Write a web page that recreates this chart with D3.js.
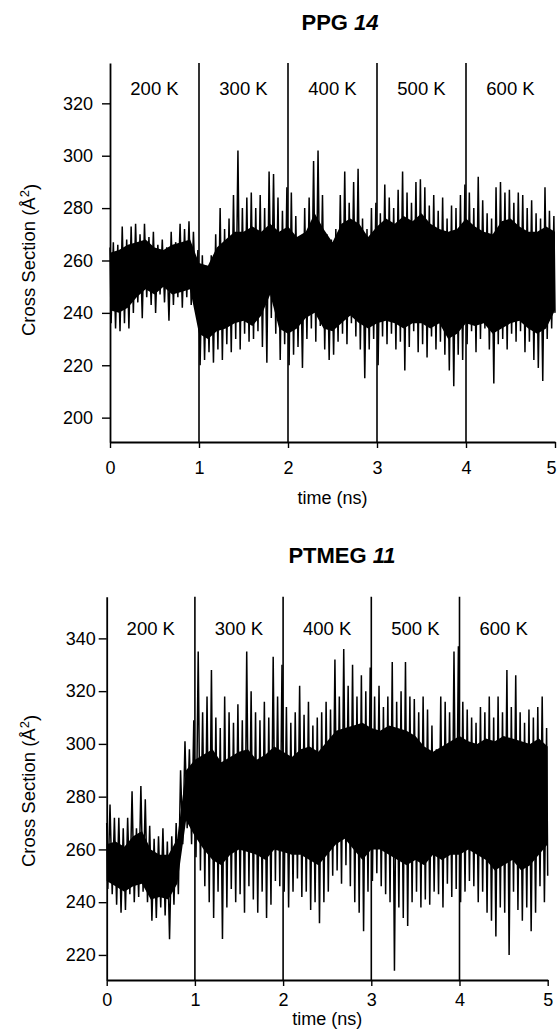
<!DOCTYPE html>
<html>
<head>
<meta charset="utf-8">
<script src="https://cdn.jsdelivr.net/npm/d3@7"></script>
<style>
  body { margin: 0; background: #fff; }
  svg text { font-family: "Liberation Sans", Arial, Helvetica, sans-serif; fill: #000; }
</style>
</head>
<body>
<div id="chart"></div>
<script>
// ---- data ----
// envelope (max / min per bin) every 0.05 ns (t = 0 ... 5), dense core band every 0.1 ns
const envStep = 0.05;
const coreStep = 0.1;
const tempLabels = ["200 K", "300 K", "400 K", "500 K", "600 K"];
const xTicks = [0, 1, 2, 3, 4, 5];
const switchTimes = [1, 2, 3, 4];

// PPG 14
const ppgHi = [265,267,266,273,268,273,274,270,274,269,271,266,268,265,271,267,274,272,275,271,
  264,262,258,262,270,280,272,276,285,302,280,284,286,280,285,280,294,293,284,279,
  288,286,277,268,280,284,298,302,285,270,268,272,285,294,282,290,295,276,272,280,
  282,278,289,284,280,287,294,286,282,290,291,288,281,285,279,284,276,281,280,285,
  289,286,280,292,283,278,276,288,290,286,287,282,286,285,280,283,278,276,288,279,277];
const ppgLo = [236,234,233,236,234,240,244,238,246,243,240,247,244,237,243,246,242,246,243,245,
  220,222,225,221,226,222,228,225,230,226,232,229,230,233,227,221,238,232,222,228,
  220,224,227,219,230,234,229,235,226,222,224,229,232,228,236,231,226,215,226,230,
  220,231,228,232,226,229,218,227,233,225,228,223,231,226,229,224,218,212,224,222,
  228,233,225,230,234,226,213,228,230,226,232,229,233,225,229,222,219,214,230,234,240];
const ppgCoreHi = [263,264,266,267,268,265,264,266,267,268,259,258,265,268,271,271,273,271,274,271,
  273,269,271,278,272,267,274,276,274,269,273,276,274,277,275,278,274,272,271,272,
  276,273,271,270,275,276,273,271,271,273,271];
const ppgCoreLo = [241,240,242,246,249,247,250,247,248,249,232,230,233,234,236,237,235,239,247,234,
  232,234,238,240,234,233,236,239,236,234,236,237,236,234,236,236,234,236,230,232,
  236,235,236,232,234,236,237,234,232,234,241];
const ppgYTicks = [200, 220, 240, 260, 280, 300, 320];

// PTMEG 11
const ptmegHi = [270,277,272,272,268,272,282,268,284,279,269,264,265,268,263,265,270,290,301,298,
  309,335,312,318,328,310,306,318,312,308,315,309,335,320,312,309,316,310,333,318,
  330,314,308,312,322,311,316,307,310,312,316,313,332,318,336,322,330,318,326,320,
  329,318,322,314,318,331,316,320,331,318,317,312,318,313,307,298,318,316,312,335,
  337,316,313,310,308,314,312,318,310,318,312,328,314,326,312,308,313,310,314,318,306];
const ptmegLo = [245,243,239,236,237,243,240,242,244,240,233,234,238,235,226,239,243,262,268,262,
  257,252,246,240,234,244,226,238,245,240,243,236,246,241,236,244,234,239,248,246,
  244,238,244,249,242,244,237,240,232,240,244,250,252,247,254,246,240,236,229,244,
  248,251,246,243,240,214,238,234,231,240,244,238,241,239,244,243,238,247,242,245,
  240,244,248,246,240,244,236,233,227,238,236,220,244,237,233,238,229,236,246,240,250];
const ptmegCoreHi = [262,263,261,265,267,260,258,258,264,290,294,296,298,293,295,297,298,294,296,299,
  297,295,298,299,297,301,305,306,307,308,306,305,307,306,305,303,299,297,299,301,
  303,301,300,302,301,303,302,301,300,302,299];
const ptmegCoreLo = [248,246,244,246,247,241,242,241,247,271,265,260,256,254,258,260,259,258,256,260,
  259,258,258,256,254,258,262,264,260,256,260,260,258,256,254,256,254,258,256,258,
  258,260,258,256,252,254,256,252,254,258,262];
const ptmegYTicks = [220, 240, 260, 280, 300, 320, 340];

const W = 557, H = 1030;
const svg = d3.select("#chart").append("svg")
  .attr("width", W)
  .attr("height", H);

function drawPanel(p) {
  let g = svg.append("g");

  let x = d3.scaleLinear().domain([0, 5]).range([p.left, p.right]).clamp(true);
  let y = d3.scaleLinear().domain(p.yDomain).range([p.bottom, p.top]);

  // trace: zigzag, max of each bin in its first half, min in its second half
  let pts = [];
  p.hi.forEach((v, i) => {
    let t = i * envStep;
    pts.push([t - envStep / 4, v]);
    pts.push([t + envStep / 4, p.lo[i]]);
  });
  let core = p.coreHi.map((v, i) => ({ t: i * coreStep, hi: v, lo: p.coreLo[i] }));

  g.append("path")
    .datum(core)
    .attr("fill", "#000")
    .attr("d", d3.area()
      .x(d => x(d.t))
      .y0(d => y(d.lo))
      .y1(d => y(d.hi)));

  g.append("path")
    .datum(pts)
    .attr("fill", "none")
    .attr("stroke", "#000")
    .attr("stroke-width", 1.5)
    .attr("d", d3.line().x(d => x(d[0])).y(d => y(d[1])));

  // temperature switch lines
  g.selectAll(".switch")
    .data(switchTimes)
    .enter().append("line")
    .attr("class", "switch")
    .attr("x1", d => x(d)).attr("x2", d => x(d))
    .attr("y1", p.top).attr("y2", p.bottom)
    .attr("stroke", "#000")
    .attr("stroke-width", 1.6);

  g.selectAll(".temp")
    .data(tempLabels)
    .enter().append("text")
    .attr("class", "temp")
    .attr("x", (d, i) => x(i + 0.5))
    .attr("y", p.tempY)
    .attr("dy", "0.36em")
    .attr("text-anchor", "middle")
    .style("font-size", "18.5px")
    .text(d => d);

  // axes
  let yAxis = g.append("g")
    .attr("transform", `translate(${p.left},0)`)
    .call(d3.axisLeft(y).tickValues(p.yTicks).tickSize(8).tickSizeOuter(0)
      .tickPadding(p.yPad).tickFormat(d3.format("d")));
  let xAxis = g.append("g")
    .attr("transform", `translate(0,${p.bottom})`)
    .call(d3.axisBottom(x).tickValues(xTicks).tickSize(6).tickSizeOuter(0)
      .tickPadding(p.xPad).tickFormat(d3.format("d")));

  [yAxis, xAxis].forEach(a => {
    a.attr("font-family", null).attr("font-size", null);
    a.select(".domain").attr("stroke-width", 1.8);
    a.selectAll(".tick line").attr("stroke-width", 1.4);
    a.selectAll(".tick text").style("font-size", "18px");
  });
  // keep the last tick label inside the picture
  xAxis.selectAll(".tick text")
    .attr("dx", d => Math.min(0, W - 6 - x(d)));

  // titles
  let title = g.append("text")
    .attr("x", p.titleX)
    .attr("y", p.titleY)
    .attr("dy", "0.36em")
    .attr("text-anchor", "middle")
    .style("font-size", "22px")
    .style("font-weight", "bold")
    .text(p.name + " ");
  title.append("tspan").style("font-style", "italic").text(p.num);

  g.append("text")
    .attr("x", (p.left + p.right) / 2)
    .attr("y", p.timeY)
    .attr("dy", "0.36em")
    .attr("text-anchor", "middle")
    .style("font-size", "18px")
    .text("time (ns)");

  let yl = g.append("text")
    .attr("transform", `translate(28,${p.yLabelY}) rotate(-90)`)
    .attr("text-anchor", "middle")
    .attr("dy", "0.36em")
    .style("font-size", "18.5px")
    .text("Cross Section (Å");
  yl.append("tspan").attr("dy", "-0.45em").style("font-size", "13px").text("2");
  yl.append("tspan").attr("dy", "0.45em").text(")");
}

drawPanel({
  name: "PPG", num: "14",
  hi: ppgHi, lo: ppgLo, coreHi: ppgCoreHi, coreLo: ppgCoreLo,
  yTicks: ppgYTicks, yDomain: [190.7, 335.4],
  left: 110, right: 555, top: 63, bottom: 442,
  tempY: 88, titleX: 340, titleY: 22, timeY: 498, yLabelY: 260,
  yPad: 9, xPad: 13
});

drawPanel({
  name: "PTMEG", num: "11",
  hi: ptmegHi, lo: ptmegLo, coreHi: ptmegCoreHi, coreLo: ptmegCoreLo,
  yTicks: ptmegYTicks, yDomain: [210.5, 355.8],
  left: 106.7, right: 547.7, top: 596.7, bottom: 980,
  tempY: 628, titleX: 342, titleY: 555, timeY: 1019, yLabelY: 791,
  yPad: 3, xPad: 7
});
</script>
</body>
</html>
